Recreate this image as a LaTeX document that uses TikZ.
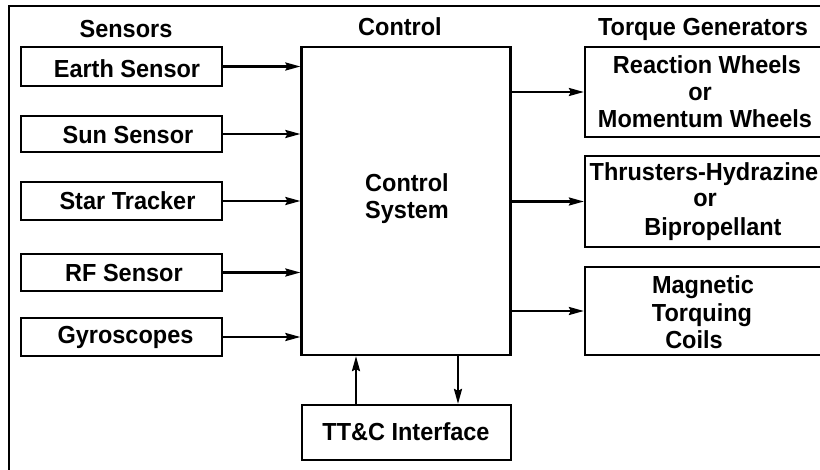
\documentclass[tikz,border=0pt]{standalone}
\usepackage{fontspec}
\setmainfont{Liberation Sans}
\usetikzlibrary{arrows.meta,calc}
\begin{document}
\begin{tikzpicture}[x=1pt,y=-1pt,
  box/.style={draw, line width=2.2pt, inner sep=0pt},
  lbl/.style={font=\fontsize{23.5}{27}\selectfont\bfseries, inner sep=0pt, text height=17pt, text depth=0pt, yscale=1.05},
  arr/.style={line width=2.4pt, -{Stealth[length=15pt,width=8pt,inset=2pt]}}]
\useasboundingbox (0,0) rectangle (820,470);
\clip (0,0) rectangle (820,470);
\fill[white] (0,0) rectangle (820,470);
\draw[line width=2.8pt] (9,471) -- (9,6) -- (821,6);
% headings
\node[lbl] (hsens) at (126,29) {Sensors};
\node[lbl] (hctl) at (400,27) {Control};
\node[lbl] (htg) at (703,27) {Torque Generators};
% sensor boxes
\node[box, minimum width=201pt, minimum height=39pt] (earth) at (121.5,66.5) {};
\node[box, minimum width=201pt, minimum height=36pt] (sun) at (121.5,134) {};
\node[box, minimum width=201pt, minimum height=38pt] (star) at (121.5,201) {};
\node[box, minimum width=201pt, minimum height=37pt] (rf) at (121.5,272.5) {};
\node[box, minimum width=201pt, minimum height=38pt] (gyro) at (121.5,337) {};
\node[lbl] (tearth) at (127,69) {Earth Sensor};
\node[lbl] (tsun) at (128,135) {Sun Sensor};
\node[lbl] (tstar) at (127.5,201) {Star Tracker};
\node[lbl] (trf) at (124,273) {RF Sensor};
\node[lbl] (tgyro) at (125.5,335) {Gyroscopes};
% control
\node[box, minimum width=209pt, minimum height=308pt] (ctl) at (406,201) {};
\node[lbl] (tctl1) at (407,183) {Control};
\node[lbl] (tctl2) at (407,210) {System};
% TT&C
\node[box, minimum width=209pt, minimum height=55pt] (tc) at (406.5,432.5) {};
\node[lbl] (ttc) at (406,432) {TT\&C Interface};
% torque generators
\node[box, minimum width=250pt, minimum height=90pt] (tg1) at (710,92) {};
\node[box, minimum width=250pt, minimum height=91pt] (tg2) at (710,201.5) {};
\node[box, minimum width=250pt, minimum height=88pt] (tg3) at (710,311) {};
\node[lbl] (tg1a) at (707,65) {Reaction Wheels};
\node[lbl] (tg1b) at (700,91.5) {or};
\node[lbl] (tg1c) at (705,119) {Momentum Wheels};
\node[lbl] (tg2a) at (704,172) {Thrusters-Hydrazine};
\node[lbl] (tg2b) at (705,197.5) {or};
\node[lbl] (tg2c) at (713,227) {Bipropellant};
\node[lbl] (tg3a) at (703,285) {Magnetic};
\node[lbl] (tg3b) at (702,313) {Torquing};
\node[lbl] (tg3c) at (694,340) {Coils};
% connectors
\foreach \s in {earth,sun,star,rf,gyro}
  \draw[arr] (\s.east) -- (\s.east -| ctl.west);
\foreach \t in {tg1,tg2,tg3}
  \draw[arr] (ctl.east |- \t.west) -- (\t.west);
\draw[arr] ([xshift=-50.5pt]tc.north) -- ([xshift=-50.5pt]tc.north |- ctl.south);
\draw[arr] ([xshift=51.5pt]tc.north |- ctl.south) -- ([xshift=51.5pt]tc.north);
\end{tikzpicture}
\end{document}
